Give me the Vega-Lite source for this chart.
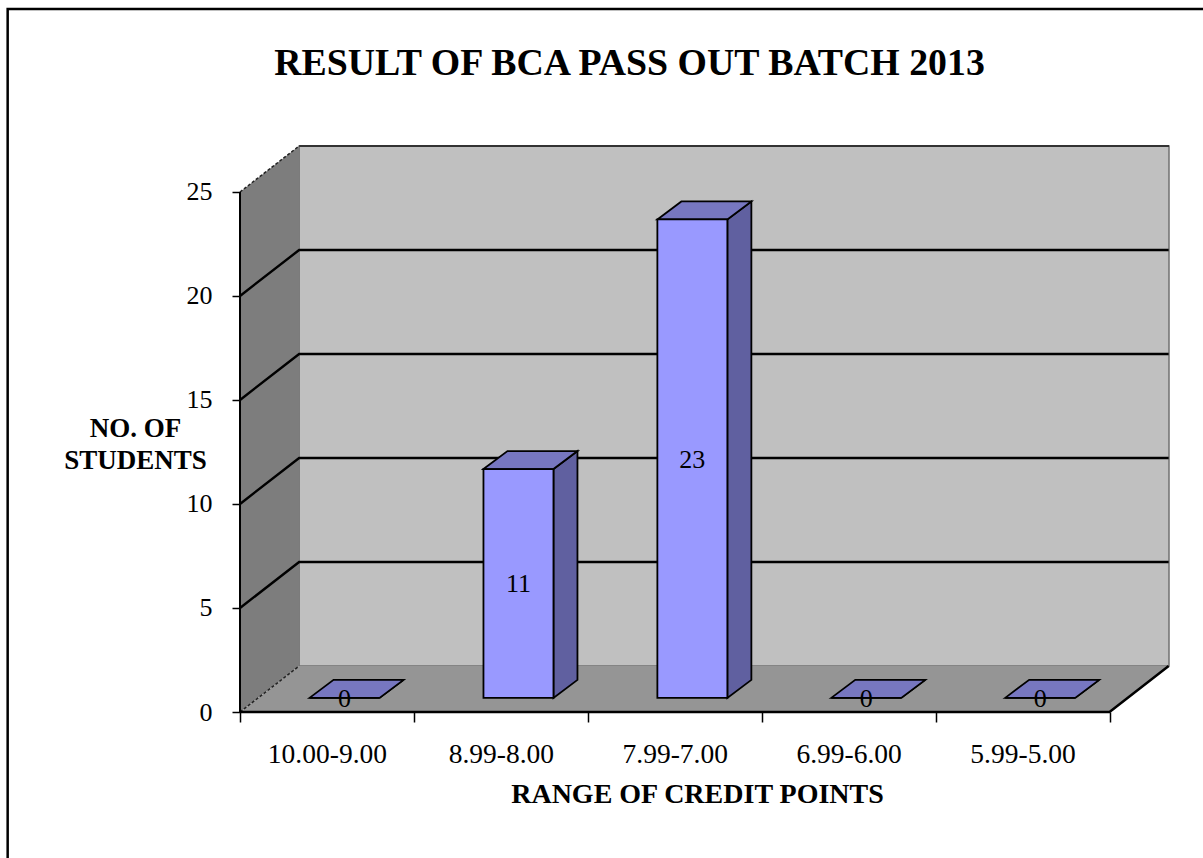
{
"$schema":"https://vega.github.io/schema/vega-lite/v6.json",
"width":929,"height":566,
"autosize":{"type":"none"},
"padding":{"left":240,"top":146,"right":34,"bottom":146},
"background":"white",
"title":{"text":"RESULT OF BCA PASS OUT BATCH 2013","font":"Liberation Serif","fontSize":37.8,"fontWeight":"bold","color":"black","anchor":"middle","frame":"group","dx":-75,"baseline":"alphabetic","offset":-105},
"params":[
{"name":"depthX","value":0.34},
{"name":"depthY","value":2.21},
{"name":"barDX","value":0.138},
{"name":"barDY","value":0.865},
{"name":"barBase","value":0.68},
{"name":"barLeft","value":0.4},
{"name":"barRight","value":0.8025}
],
"datasets":{
"bars":[
{"range":"10.00-9.00","students":0},
{"range":"8.99-8.00","students":11},
{"range":"7.99-7.00","students":23},
{"range":"6.99-6.00","students":0},
{"range":"5.99-5.00","students":0}
],
"gridlines":[{"level":5},{"level":10},{"level":15},{"level":20}],
"frame":[{"part":"frame"}]
},
"config":{"view":{"stroke":null},"font":"Liberation Serif"},
"layer":[
{
"data":{"name":"frame"},
"mark":{"type":"rect","fill":"#c0c0c0","stroke":"#707070","strokeWidth":1.5},
"encoding":{
"x":{"datum":0.34,"type":"quantitative","scale":{"domain":[0,5.342],"nice":false,"zero":false},
"axis":{"values":[0,0.5,1,1.5,2,2.5,3,3.5,4,4.5,5],"grid":false,"domain":false,
"labelExpr":"datum.value % 1 ? ['10.00-9.00','8.99-8.00','7.99-7.00','6.99-6.00','5.99-5.00'][floor(datum.value)] : ''",
"tickSize":{"condition":{"test":"datum.value % 1 === 0","value":10},"value":0},
"tickColor":"black","tickWidth":1.5,"labelFont":"Liberation Serif","labelFontSize":27.5,"labelColor":"black","labelPadding":28,"labelOverlap":false,"labelBound":false,"labelFlush":false,"labelAngle":0,
"title":"RANGE OF CREDIT POINTS","titleFont":"Liberation Serif","titleFontSize":28,"titleFontWeight":"bold","titleColor":"black","titleAlign":"center","titleBaseline":"alphabetic","titleX":457,"titleY":90}},
"x2":{"datum":5.342},
"y":{"datum":2.21,"type":"quantitative","scale":{"domain":[0,27.21],"nice":false,"zero":false},
"axis":{"values":[0,5,10,15,20,25],"grid":false,"domain":false,"tickSize":8,"tickColor":"black","tickWidth":1.5,"labelFont":"Liberation Serif","labelFontSize":26,"labelColor":"black","labelPadding":20,
"title":["NO. OF","STUDENTS"],"titleAngle":0,"titleFont":"Liberation Serif","titleFontSize":27,"titleFontWeight":"bold","titleColor":"black","titleAlign":"center","titleBaseline":"alphabetic","titleX":-105,"titleY":290,"titleLineHeight":32}},
"y2":{"datum":27.21}
}
},
{
"data":{"values":[{"depth":0},{"depth":1}]},
"transform":[
{"calculate":"datum.depth*depthX","as":"wx"},
{"calculate":"25+datum.depth*depthY","as":"wtop"},
{"calculate":"datum.depth*depthY","as":"wbot"}
],
"mark":{"type":"area","orient":"vertical","fill":"#7d7d7d"},
"encoding":{
"x":{"field":"wx","type":"quantitative"},
"y":{"field":"wtop","type":"quantitative","stack":null},
"y2":{"field":"wbot"}
}
},
{
"data":{"values":[{"stop":0},{"stop":1},{"stop":2},{"stop":3}]},
"transform":[
{"calculate":"[0,depthX,5,5+depthX][datum.stop]","as":"fx"},
{"calculate":"[0,depthY,depthY,depthY][datum.stop]","as":"fback"},
{"calculate":"[0,0,0,depthY][datum.stop]","as":"ffront"}
],
"mark":{"type":"area","orient":"vertical","fill":"#959595"},
"encoding":{
"x":{"field":"fx","type":"quantitative"},
"y":{"field":"fback","type":"quantitative","stack":null},
"y2":{"field":"ffront"}
}
},
{
"data":{"name":"gridlines"},
"transform":[
{"calculate":"[0,1,2]","as":"stop"},
{"flatten":["stop"]},
{"calculate":"[0,depthX,5+depthX][datum.stop]","as":"gx"},
{"calculate":"datum.level+(datum.stop>0?depthY:0)","as":"gy"}
],
"mark":{"type":"line","color":"black","strokeWidth":2.4},
"encoding":{
"x":{"field":"gx","type":"quantitative"},
"y":{"field":"gy","type":"quantitative"},
"detail":{"field":"level"}
}
},
{
"data":{"values":[{"level":0},{"level":25}]},
"transform":[
{"calculate":"[0,1]","as":"stop"},
{"flatten":["stop"]},
{"calculate":"datum.stop*depthX","as":"gx"},
{"calculate":"datum.level+datum.stop*depthY","as":"gy"}
],
"mark":{"type":"line","color":"#222222","strokeWidth":1.5,"strokeDash":[3,2]},
"encoding":{
"x":{"field":"gx","type":"quantitative"},
"y":{"field":"gy","type":"quantitative"},
"detail":{"field":"level"}
}
},
{
"data":{"name":"frame"},
"mark":{"type":"rule","color":"#333333","strokeWidth":2},
"encoding":{"x":{"datum":0.34,"type":"quantitative"},"x2":{"datum":5.342},"y":{"datum":27.21,"type":"quantitative"}}
},
{
"data":{"name":"frame"},
"mark":{"type":"rule","color":"black","strokeWidth":2},
"encoding":{"x":{"datum":0,"type":"quantitative"},"y":{"datum":0,"type":"quantitative"},"y2":{"datum":25}}
},
{
"data":{"values":[{"stop":0},{"stop":1},{"stop":2}]},
"transform":[
{"calculate":"[0,5,5+depthX][datum.stop]","as":"gx"},
{"calculate":"[0,0,depthY][datum.stop]","as":"gy"}
],
"mark":{"type":"line","color":"black","strokeWidth":2.5},
"encoding":{
"x":{"field":"gx","type":"quantitative"},
"y":{"field":"gy","type":"quantitative"}
}
},
{
"data":{"name":"bars"},
"transform":[
{"window":[{"op":"row_number","as":"rowNo"}]},
{"calculate":"datum.rowNo-1+barLeft","as":"left"},
{"calculate":"datum.rowNo-1+barRight","as":"right"},
{"calculate":"barBase+datum.students","as":"top"}
],
"layer":[
{
"transform":[
{"calculate":"[0,1]","as":"stop"},
{"flatten":["stop"]},
{"calculate":"datum.right+datum.stop*barDX","as":"sx"},
{"calculate":"datum.top+datum.stop*barDY","as":"sy"},
{"calculate":"barBase+datum.stop*barDY","as":"sy2"}
],
"mark":{"type":"area","orient":"vertical","fill":"#6060a0","stroke":"black","strokeWidth":1.8},
"encoding":{
"x":{"field":"sx","type":"quantitative"},
"y":{"field":"sy","type":"quantitative","stack":null},
"y2":{"field":"sy2"},
"detail":{"field":"range"}
}
},
{
"transform":[
{"calculate":"[0,1,2,3]","as":"stop"},
{"flatten":["stop"]},
{"calculate":"[datum.left,datum.left+barDX,datum.right,datum.right+barDX][datum.stop]","as":"tx"},
{"calculate":"datum.top+(datum.stop>0?barDY:0)","as":"tback"},
{"calculate":"datum.top+(datum.stop>2?barDY:0)","as":"tfront"}
],
"mark":{"type":"area","orient":"vertical","fill":"#7777c0","stroke":"black","strokeWidth":1.8},
"encoding":{
"x":{"field":"tx","type":"quantitative"},
"y":{"field":"tback","type":"quantitative","stack":null},
"y2":{"field":"tfront"},
"detail":{"field":"range"}
}
},
{
"mark":{"type":"rect","fill":"#9999ff","stroke":"black","strokeWidth":1.8},
"encoding":{
"x":{"field":"left","type":"quantitative"},
"x2":{"field":"right"},
"y":{"field":"top","type":"quantitative"},
"y2":{"datum":0.68}
}
},
{
"transform":[
{"calculate":"(datum.left+datum.right)/2","as":"cx"},
{"calculate":"barBase+datum.students/2","as":"cy"}
],
"mark":{"type":"text","font":"Liberation Serif","fontSize":26,"color":"black","align":"center","baseline":"middle","dy":1},
"encoding":{
"x":{"field":"cx","type":"quantitative"},
"y":{"field":"cy","type":"quantitative"},
"text":{"field":"students","type":"quantitative"}
}
}
]
},
{
"data":{"name":"frame"},
"mark":{"type":"rect","fill":null,"stroke":"black","strokeWidth":2.5},
"encoding":{
"x":{"datum":-1.336,"type":"quantitative"},
"x2":{"datum":6},
"y":{"datum":33.8,"type":"quantitative"},
"y2":{"datum":-10}
}
}
]
}
